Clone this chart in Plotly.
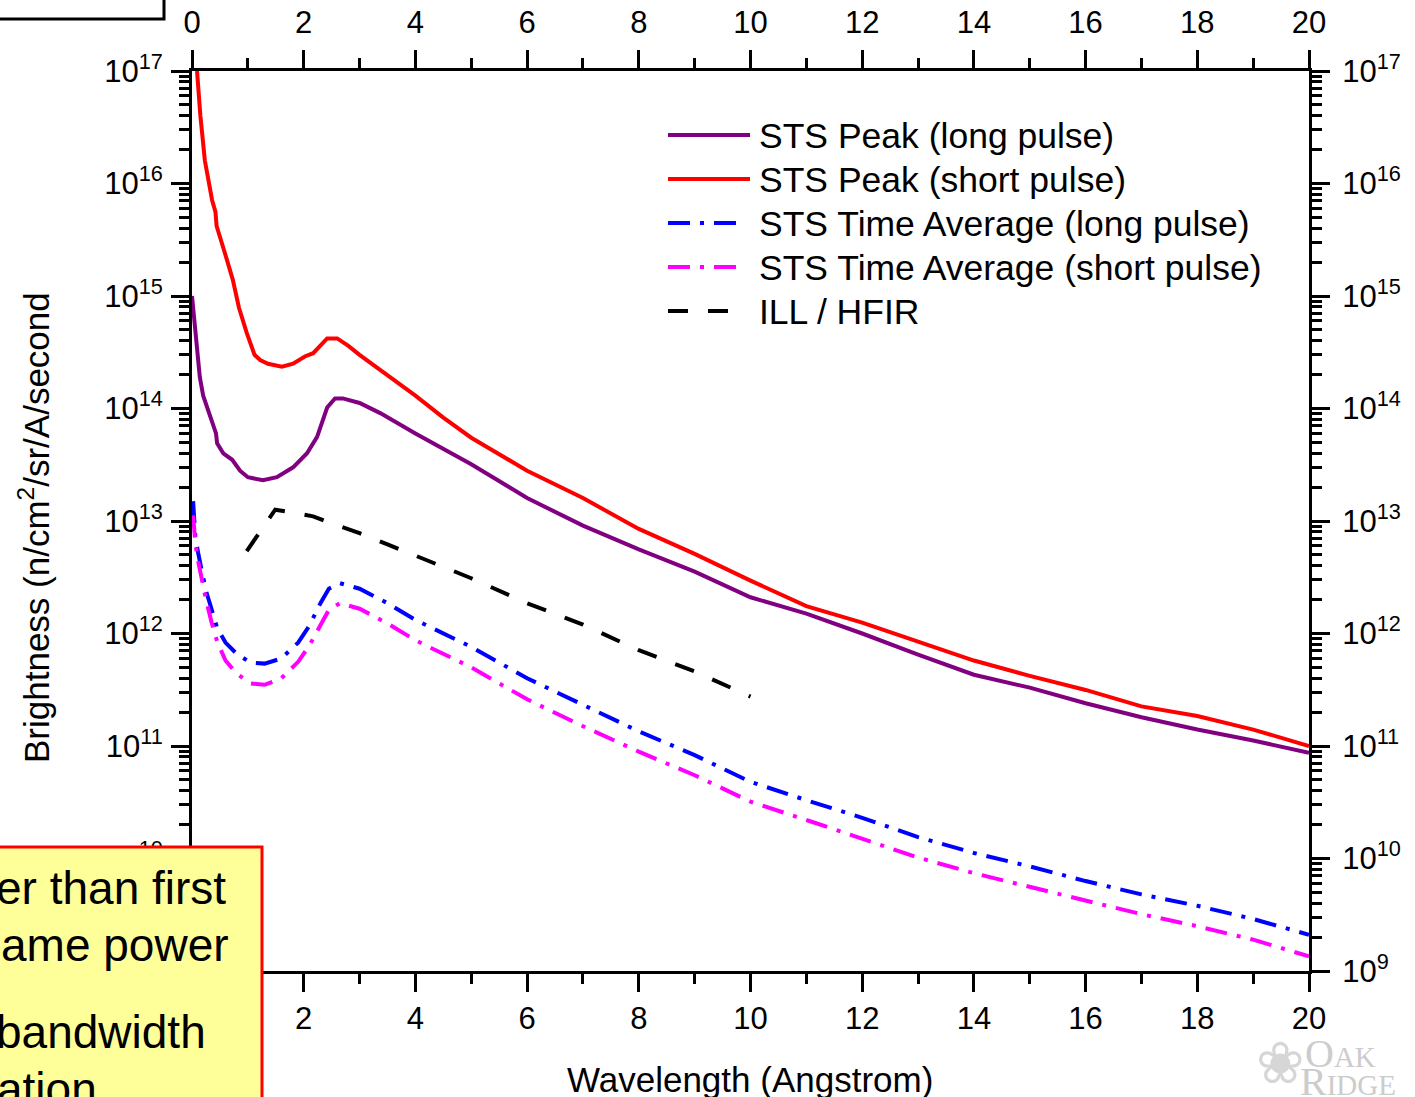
import plotly.graph_objects as go

# ---------------- data ----------------
x_peak_short = [0.09, 0.15, 0.23, 0.30, 0.36, 0.42, 0.44, 0.59, 0.73, 0.84, 0.98, 1.12, 1.22, 1.36,
                1.61, 1.81, 2.02, 2.17, 2.42, 2.60, 2.80, 3.00, 3.37, 4.0, 4.5, 5.0, 6.0, 7.0, 8.0,
                9.0, 10.0, 11.0, 12.0, 13.0, 14.0, 15.0, 16.0, 17.0, 18.0, 19.0, 20.0]
y_peak_short = [1.0e17, 4.0e16, 1.6e16, 1.0e16, 7.1e15, 5.6e15, 4.2e15, 2.4e15, 1.4e15, 7.9e14,
                4.7e14, 3.0e14, 2.7e14, 2.5e14, 2.35e14, 2.5e14, 2.9e14, 3.1e14, 4.2e14, 4.2e14,
                3.6e14, 3.0e14, 2.2e14, 1.3e14, 8.3e13, 5.5e13, 2.8e13, 1.6e13, 8.5e12, 5.1e12,
                2.95e12, 1.75e12, 1.25e12, 8.5e11, 5.75e11, 4.2e11, 3.15e11, 2.25e11, 1.85e11,
                1.4e11, 1.0e11]

x_peak_long = [0.0, 0.03, 0.05, 0.10, 0.14, 0.20, 0.27, 0.38, 0.43, 0.45, 0.56, 0.72, 0.86, 1.00,
               1.27, 1.52, 1.81, 2.06, 2.24, 2.42, 2.56, 2.70, 3.00, 3.37, 4.0, 5.0, 6.0, 7.0, 8.0,
               9.0, 10.0, 11.0, 12.0, 13.0, 14.0, 15.0, 16.0, 17.0, 18.0, 19.0, 20.0]
y_peak_long = [1.0e15, 7.0e14, 5.2e14, 2.8e14, 1.9e14, 1.3e14, 1.02e14, 6.9e13, 6.0e13, 4.9e13,
               4.0e13, 3.5e13, 2.8e13, 2.45e13, 2.3e13, 2.45e13, 3.0e13, 4.0e13, 5.6e13, 1.02e14,
               1.23e14, 1.23e14, 1.12e14, 9.1e13, 6.0e13, 3.2e13, 1.6e13, 9.1e12, 5.6e12, 3.55e12,
               2.1e12, 1.5e12, 1.0e12, 6.5e11, 4.3e11, 3.3e11, 2.4e11, 1.8e11, 1.4e11, 1.12e11,
               8.7e10]

x_avg = [0.02, 0.06, 0.11, 0.18, 0.25, 0.35, 0.45, 0.60, 0.80, 1.05, 1.30, 1.60, 1.90, 2.10,
         2.30, 2.45, 2.65, 3.00, 3.50, 4.0, 5.0, 6.0, 7.0, 8.0, 9.0, 10.0, 11.0, 12.0, 13.0,
         14.0, 15.0, 16.0, 17.0, 18.0, 19.0, 20.0]
y_avg_long = [1.5e13, 7.2e12, 5.2e12, 3.5e12, 2.4e12, 1.65e12, 1.12e12, 8.3e11, 6.6e11, 5.5e11,
              5.4e11, 6.0e11, 8.3e11, 1.17e12, 1.86e12, 2.5e12, 2.8e12, 2.5e12, 1.86e12, 1.32e12,
              7.6e11, 4.0e11, 2.3e11, 1.35e11, 8.3e10, 4.8e10, 3.3e10, 2.3e10, 1.55e10, 1.12e10,
              8.5e9, 6.3e9, 4.8e9, 3.8e9, 2.9e9, 2.1e9]
y_avg_short = [1.12e13, 6.3e12, 4.4e12, 2.95e12, 2.0e12, 1.26e12, 8.5e11, 5.75e11, 4.4e11, 3.6e11,
               3.5e11, 4.0e11, 5.6e11, 7.8e11, 1.2e12, 1.62e12, 1.86e12, 1.66e12, 1.23e12, 8.7e11,
               5.0e11, 2.6e11, 1.5e11, 8.9e10, 5.5e10, 3.2e10, 2.2e10, 1.5e10, 1.02e10, 7.4e9,
               5.6e9, 4.2e9, 3.2e9, 2.5e9, 1.9e9, 1.35e9]

x_ill = [0.98, 1.20, 1.49, 1.75, 2.17, 2.50, 3.00, 3.50, 4.0, 5.0, 6.0, 7.0, 8.0, 9.0, 10.0]
y_ill = [5.4e12, 7.9e12, 1.26e13, 1.2e13, 1.1e13, 9.5e12, 7.8e12, 6.2e12, 4.9e12, 3.1e12,
         1.86e12, 1.2e12, 7.1e11, 4.6e11, 2.75e11]

series_names = ["STS Peak (long pulse)", "STS Peak (short pulse)",
                "STS Time Average (long pulse)", "STS Time Average (short pulse)",
                "ILL / HFIR"]
series_colors = ["#800080", "#FF0000", "#0000FF", "#FF00FF", "#000000"]
series_dash = ["solid", "solid", "22px,10px,4px,10px", "22px,10px,4px,10px", "20px,20px"]

x_tickvals_top = [0, 2, 4, 6, 8, 10, 12, 14, 16, 18, 20]
x_tickvals_bottom = [0, 2, 4, 6, 8, 10, 12, 14, 16, 18, 20]
y_tickvals = [1e9, 1e10, 1e11, 1e12, 1e13, 1e14, 1e15, 1e16, 1e17]
y_ticktext = ["10<sup>9</sup>", "10<sup>10</sup>", "10<sup>11</sup>", "10<sup>12</sup>",
              "10<sup>13</sup>", "10<sup>14</sup>", "10<sup>15</sup>", "10<sup>16</sup>",
              "10<sup>17</sup>"]

box_lines = ["er than first", "ame power", "bandwidth", "ation"]

# ---------------- layout geometry ----------------
W, H = 1415, 1097
L, R, T, B = 192, 1309, 71, 971


def px(xp):
    return (xp - L) / (R - L)


def py(yp):
    return (B - yp) / (B - T)


FONT = "Liberation Sans, Arial, sans-serif"

fig = go.Figure()
xs = [x_peak_long, x_peak_short, x_avg, x_avg, x_ill]
ys = [y_peak_long, y_peak_short, y_avg_long, y_avg_short, y_ill]
for xv, yv, nm, col, ds in zip(xs, ys, series_names, series_colors, series_dash):
    fig.add_trace(go.Scatter(x=xv, y=yv, mode="lines", name=nm, showlegend=False,
                             line=dict(color=col, width=4, dash=ds)))

axis_common = dict(showline=True, linecolor="black", linewidth=3, ticks="outside",
                   tickcolor="black", tickwidth=2.5, ticklen=18, showgrid=False, zeroline=False,
                   automargin=False, tickfont=dict(family=FONT, size=31, color="black"))
minor_x = dict(dtick=1, ticklen=10, tickwidth=2.5, tickcolor="black", ticks="outside")
minor_y = dict(dtick="D1", ticklen=10, tickwidth=2.5, tickcolor="black", ticks="outside")

fig.update_layout(
    width=W, height=H,
    margin=dict(l=L, r=W - R, t=T, b=H - B, pad=0, autoexpand=False),
    paper_bgcolor="white", plot_bgcolor="white",
    font=dict(family=FONT, color="black"),
    showlegend=False,
    xaxis=dict(range=[0, 20], tickvals=x_tickvals_bottom, ticklabelstandoff=0,
               minor=minor_x, **axis_common),
    xaxis2=dict(range=[0, 20], overlaying="x", side="top", anchor="y", tickvals=x_tickvals_top,
                ticklabelstandoff=5, minor=minor_x, **axis_common),
    yaxis=dict(type="log", range=[9, 17], tickvals=y_tickvals, ticktext=y_ticktext,
               ticklabelstandoff=2, minor=minor_y, **axis_common),
    yaxis2=dict(type="log", range=[9, 17], overlaying="y", side="right", anchor="x",
                tickvals=y_tickvals, ticktext=y_ticktext, ticklabelstandoff=6,
                minor=minor_y, **axis_common),
)

# helper trace on the top/right axes (no data) so those axes are drawn
fig.add_trace(go.Scatter(x=[], y=[], xaxis="x2", yaxis="y2", showlegend=False, hoverinfo="skip"))

shapes = [
    # top-left partial box
    dict(type="rect", xref="paper", yref="paper", x0=px(-10), x1=px(164), y0=py(19), y1=py(-10),
         line=dict(color="black", width=3), fillcolor="white", layer="above"),
    # yellow note box
    dict(type="rect", xref="paper", yref="paper", x0=px(-10), x1=px(262), y0=py(1110), y1=py(847),
         line=dict(color="#FF0000", width=3), fillcolor="#FFFF99", layer="above"),
]

annotations = [
    dict(text="Brightness (n/cm<sup>2</sup>/sr/A/second", xref="paper", yref="paper",
         x=px(34), y=py(528), xanchor="center", yanchor="middle", textangle=-90, showarrow=False,
         font=dict(family=FONT, size=35, color="black")),
    dict(text="Wavelength (Angstrom)", xref="paper", yref="paper", x=px(750), y=py(1079),
         xanchor="center", yanchor="middle", showarrow=False,
         font=dict(family=FONT, size=35, color="black")),
]

# legend (line samples + labels), top-right inside the plot
leg_x0, leg_text_x = 668, 758
leg_x1 = [750, 750, 742, 742, 729]
leg_rows = [135, 179, 223, 267, 311]
for nm, col, ds, yr, xe in zip(series_names, series_colors, series_dash, leg_rows, leg_x1):
    shapes.append(dict(type="line", xref="paper", yref="paper", x0=px(leg_x0), x1=px(xe),
                       y0=py(yr), y1=py(yr), line=dict(color=col, width=4, dash=ds)))
    annotations.append(dict(text=nm, xref="paper", yref="paper", x=px(leg_text_x), y=py(yr + 1),
                            xanchor="left", yanchor="middle", showarrow=False, borderpad=0,
                            font=dict(family=FONT, size=35.5, color="black")))

box_right = [227, 230, 207, 98]
box_cy = [888, 945, 1032, 1089]
for t, xr, yc in zip(box_lines, box_right, box_cy):
    annotations.append(dict(text=t, xref="paper", yref="paper", x=px(xr), y=py(yc),
                            xanchor="right", yanchor="middle", showarrow=False, borderpad=0,
                            font=dict(family=FONT, size=46, color="black")))
# Oak Ridge logo text
annotations.append(dict(text="O<span style='font-size:29px'>AK</span>", xref="paper", yref="paper",
                        x=px(1303), y=py(1053), xanchor="left", yanchor="middle", showarrow=False,
                        font=dict(family="Liberation Serif, serif", size=40, color="#cccccc")))
annotations.append(dict(text="R<span style='font-size:29px'>IDGE</span>", xref="paper", yref="paper",
                        x=px(1298), y=py(1081), xanchor="left", yanchor="middle", showarrow=False,
                        font=dict(family="Liberation Serif, serif", size=40, color="#cccccc")))
annotations.append(dict(text="\u2740", xref="paper", yref="paper",
                        x=px(1280), y=py(1063), xanchor="center", yanchor="middle", showarrow=False,
                        font=dict(family="DejaVu Sans", size=58, color="#d6d6d6")))

fig.update_layout(shapes=shapes, annotations=annotations)

fig.write_html("out.html", config={"displayModeBar": False},
               post_script="document.body.style.margin='0';document.body.style.padding='0';")
